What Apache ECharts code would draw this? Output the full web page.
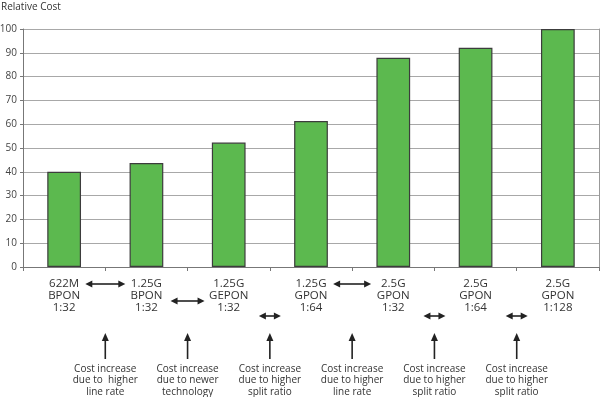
<!DOCTYPE html>
<html>
<head>
<meta charset="utf-8">
<script src="https://cdn.jsdelivr.net/npm/echarts@6/dist/echarts.min.js"></script>
<style>
  html, body { margin: 0; padding: 0; background: #fff; }
  #chart { width: 600px; height: 397px; }
</style>
</head>
<body>
<div id="chart"></div>
<script>
// Data
const categories = [
  '622M\nBPON\n1:32',
  '1.25G\nBPON\n1:32',
  '1.25G\nGEPON\n1:32',
  '1.25G\nGPON\n1:64',
  '2.5G\nGPON\n1:32',
  '2.5G\nGPON\n1:64',
  '2.5G\nGPON\n1:128'
];
const relativeCost = [40, 43.7, 52.3, 61.3, 87.9, 92.1, 100];
const yTicks = [0, 10, 20, 30, 40, 50, 60, 70, 80, 90, 100];

// Notes sit between neighbouring categories
const notes = [
  'Cost increase\ndue to  higher\nline rate',
  'Cost increase\ndue to newer\ntechnology',
  'Cost increase\ndue to higher\nsplit ratio',
  'Cost increase\ndue to higher\nline rate',
  'Cost increase\ndue to higher\nsplit ratio',
  'Cost increase\ndue to higher\nsplit ratio'
];
const noteRow = [0, 1, 2, 0, 2, 2];   // which label line the double arrow shares
const noteSpan = [20, 17, 11, 19, 11, 11];

const FONT = 'Open Sans';
const INK = '#222';

const chart = echarts.init(document.getElementById('chart'));

chart.setOption({
  animation: false,
  backgroundColor: '#fff',
  textStyle: { fontFamily: FONT },
  grid: { left: 23, right: 1, top: 29, bottom: 130, outerBoundsMode: 'none', containLabel: false },
  xAxis: {
    type: 'category',
    data: categories,
    axisLine: { lineStyle: { color: '#777', width: 1 } },
    axisTick: { show: true, length: 4, lineStyle: { color: '#777' } },
    axisLabel: {
      color: '#333',
      fontSize: 11.5,
      lineHeight: 12,
      margin: 11,
      interval: 0
    }
  },
  yAxis: [{
    type: 'value',
    min: yTicks[0],
    max: yTicks[yTicks.length - 1],
    interval: 10,
    name: 'Relative Cost',
    nameLocation: 'end',
    nameGap: 17,
    nameTextStyle: { color: '#333', fontSize: 10, align: 'left', padding: [0, 0, 0, -22] },
    axisLine: { show: true, lineStyle: { color: '#777' } },
    axisTick: { show: true, length: 3, lineStyle: { color: '#777' } },
    axisLabel: { color: '#444', fontSize: 10, margin: 6 },
    splitLine: { lineStyle: { color: '#a8a8a8', width: 1 } }
  }, {
    type: 'value',
    position: 'right',
    min: yTicks[0],
    max: yTicks[yTicks.length - 1],
    interval: 10,
    axisLine: { show: true, lineStyle: { color: '#999' } },
    axisTick: { show: false },
    axisLabel: { show: false },
    splitLine: { show: false }
  }],
  series: [{
    type: 'bar',
    data: relativeCost,
    barWidth: '41%',
    itemStyle: { color: '#5cb94f', borderColor: '#3c3c3c', borderWidth: 1.2 }
  }]
});

// Annotation arrows and notes placed via the axis scale
function arrowHead(x, y, dir, len, half) {
  // dir: 'left' | 'right' | 'up'
  let pts;
  if (dir === 'left') pts = [[x, y], [x + len, y - half], [x + len, y + half]];
  else if (dir === 'right') pts = [[x, y], [x - len, y - half], [x - len, y + half]];
  else pts = [[x, y], [x - half, y + len], [x + half, y + len]];
  return { type: 'polygon', silent: true, shape: { points: pts }, style: { fill: INK } };
}

function drawNotes() {
  const baseY = chart.convertToPixel({ yAxisIndex: 0 }, 0);
  const rowY = [baseY + 17, baseY + 34, baseY + 49];
  const elems = [];
  notes.forEach((txt, i) => {
    const x0 = chart.convertToPixel({ xAxisIndex: 0 }, categories[i]);
    const x1 = chart.convertToPixel({ xAxisIndex: 0 }, categories[i + 1]);
    const mid = (x0 + x1) / 2;
    const y = rowY[noteRow[i]];
    const s = noteSpan[i];
    // double arrow
    elems.push({ type: 'line', silent: true, shape: { x1: mid - s + 5, y1: y, x2: mid + s - 5, y2: y }, style: { stroke: INK, lineWidth: 1.6 } });
    elems.push(arrowHead(mid - s, y, 'left', 7, 3.5));
    elems.push(arrowHead(mid + s, y, 'right', 7, 3.5));
    // vertical arrow
    elems.push({ type: 'line', silent: true, shape: { x1: mid, y1: baseY + 72, x2: mid, y2: baseY + 92 }, style: { stroke: INK, lineWidth: 1.6 } });
    elems.push(arrowHead(mid, baseY + 66, 'up', 8, 3.5));
    // note text
    elems.push({
      type: 'text', silent: true, x: mid, y: baseY + 96,
      style: { text: txt, fill: '#333', font: '10px "' + FONT + '"', align: 'center', verticalAlign: 'top', lineHeight: 11.5 }
    });
  });
  chart.setOption({ graphic: elems });
}

drawNotes();
</script>
</body>
</html>
